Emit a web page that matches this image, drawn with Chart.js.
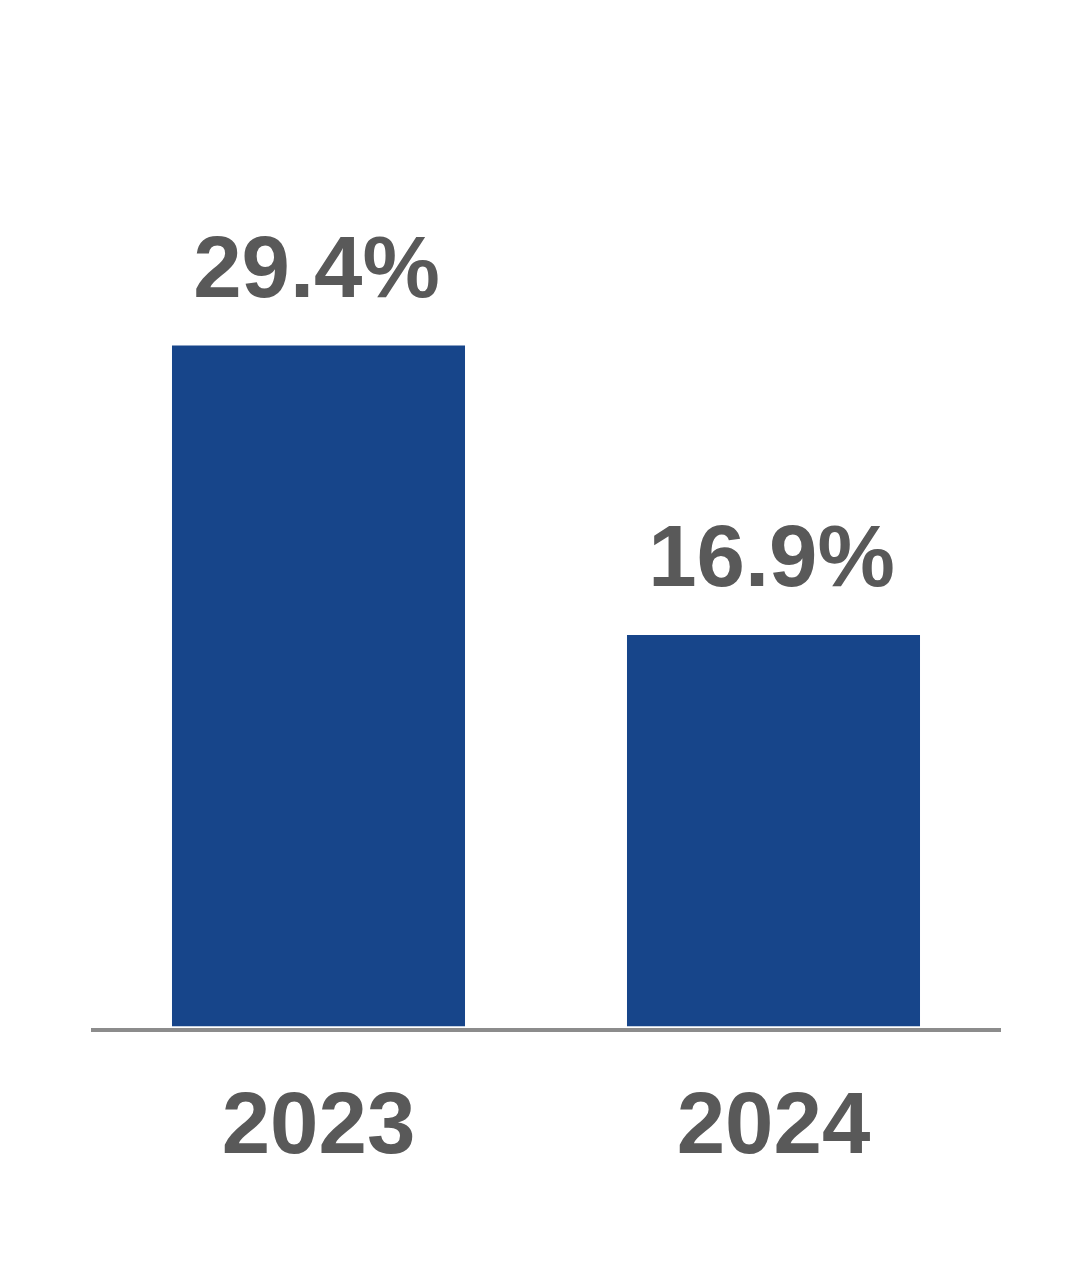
<!DOCTYPE html>
<html>
<head>
<meta charset="utf-8">
<script src="https://cdn.jsdelivr.net/npm/chart.js@4/dist/chart.umd.min.js"></script>
<style>
  html, body { margin: 0; padding: 0; background: #fff; }
  #wrap { width: 1092px; height: 1266px; }
</style>
</head>
<body>
<div id="wrap"><canvas id="myChart" width="1092" height="1266"></canvas></div>
<script>
'use strict';

var years = ['2023', '2024'];
var rates = [29.4, 16.9];
var rateLabels = ['29.4%', '16.9%'];

var barColor = '#17458A';
var textColor = '#595959';
var lineColor = '#8C8C8C';

// value labels over each bar
var valueLabels = {
    id: 'valueLabels',
    afterDatasetsDraw: function (chart) {
        var ctx = chart.ctx;
        var meta = chart.getDatasetMeta(0);
        ctx.save();
        ctx.fillStyle = textColor;
        ctx.font = 'bold 87px "Liberation Sans", Arial, sans-serif';
        ctx.textAlign = 'center';
        ctx.textBaseline = 'alphabetic';
        meta.data.forEach(function (bar, i) {
            ctx.fillText(rateLabels[i], bar.x - 2, bar.y - 49);
        });
        ctx.restore();
    }
};

// grey base line just under the bars
var baseLine = {
    id: 'baseLine',
    afterDraw: function (chart) {
        var ctx = chart.ctx;
        var area = chart.chartArea;
        var y = chart.scales.y.getPixelForValue(0) + 3.5;
        ctx.save();
        ctx.strokeStyle = lineColor;
        ctx.lineWidth = 4;
        ctx.beginPath();
        ctx.moveTo(area.left, y);
        ctx.lineTo(area.right, y);
        ctx.stroke();
        ctx.restore();
    }
};

var ctx = document.getElementById('myChart').getContext('2d');
var myChart = new Chart(ctx, {
    type: 'bar',
    data: {
        labels: years,
        datasets: [{
            data: rates,
            backgroundColor: barColor,
            borderWidth: 0,
            barPercentage: 0.644,
            categoryPercentage: 1
        }]
    },
    options: {
        responsive: false,
        animation: false,
        events: [],
        layout: {
            padding: { left: 91, right: 91, top: 100, bottom: 35 }
        },
        plugins: {
            legend: { display: false },
            tooltip: { enabled: false }
        },
        scales: {
            x: {
                grid: { display: false, drawTicks: false },
                border: { display: false },
                ticks: {
                    color: textColor,
                    padding: 50,
                    font: { family: '"Liberation Sans", Arial, sans-serif', size: 87, weight: 'bold' }
                }
            },
            y: {
                display: false,
                min: 0,
                max: 40
            }
        }
    },
    plugins: [valueLabels, baseLine]
});
</script>
</body>
</html>
